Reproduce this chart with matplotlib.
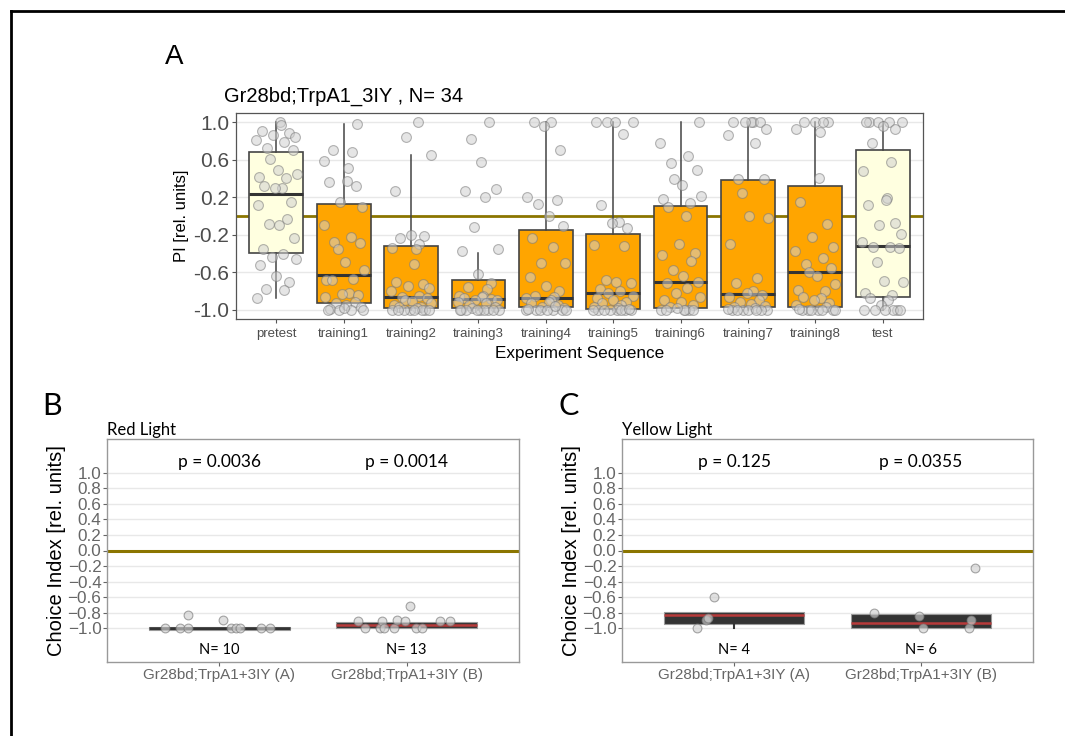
"""Recreation of the Gr28bd;TrpA1_3IY learning figure (panels A, B, C)."""

import matplotlib

matplotlib.use("Agg")
import matplotlib.pyplot as plt
import numpy as np
from matplotlib.lines import Line2D

# ---------------- panel A data ----------------
stages = ["pretest", "training1", "training2", "training3", "training4",
          "training5", "training6", "training7", "training8", "test"]
n_flies = 34

pretest = [1.0, 0.91, 0.89, 0.86, 0.84, 0.81, 0.79, 0.73, 0.71, 0.61, 0.49, 0.45,
           0.42, 0.41, 0.32, 0.30, 0.30, 0.15, 0.12, -0.03, -0.09, -0.10, -0.24,
           -0.35, -0.41, -0.44, -0.46, -0.52, -0.64, -0.71, -0.78, -0.79, -0.88, 0.97]
training1 = [0.98, 0.71, 0.68, 0.59, 0.51, 0.37, 0.36, 0.32, 0.15, 0.10, -0.10,
             -0.22, -0.28, -0.29, -0.35, -0.49, -0.58, -0.68, -0.67, -0.68, -0.82,
             -0.83, -0.84, -0.86, -0.92, -0.93, -0.95, -0.97, -0.99, -1.0, -1.0,
             -1.0, -1.0, -0.98]
training2 = [1.0, 0.84, 0.65, 0.27, -0.20, -0.21, -0.24, -0.30, -0.34, -0.35, -0.51,
             -0.71, -0.73, -0.75, -0.77, -0.80, -0.85, -0.87, -0.88, -0.90, -0.91,
             -0.93, -0.95, -0.97, -0.97, -0.98, -1.0, -1.0, -1.0, -1.0, -1.0, -1.0,
             -1.0, -1.0]
training3 = [1.0, 0.82, 0.58, 0.29, 0.27, 0.20, -0.12, -0.35, -0.37, -0.62, -0.72,
             -0.76, -0.78, -0.85, -0.85, -0.86, -0.88, -0.89, -0.90, -0.90, -0.92,
             -0.93, -0.95, -0.97, -0.98, -1.0, -1.0, -1.0, -1.0, -1.0, -1.0, -1.0,
             -1.0, -1.0]
training4 = [1.0, 1.0, 0.96, 0.71, 0.20, 0.17, 0.13, 0.0, -0.11, -0.23, -0.33, -0.50,
             -0.50, -0.65, -0.75, -0.80, -0.85, -0.87, -0.88, -0.90, -0.92, -0.93,
             -0.95, -0.97, -0.98, -1.0, -1.0, -1.0, -1.0, -1.0, -1.0, -1.0, -0.99,
             -0.96]
training5 = [1.0, 1.0, 1.0, 1.0, 0.88, 0.12, -0.06, -0.08, -0.13, -0.31, -0.32,
             -0.68, -0.70, -0.72, -0.78, -0.80, -0.82, -0.85, -0.88, -0.90, -0.92,
             -0.93, -0.95, -0.97, -0.98, -1.0, -1.0, -1.0, -1.0, -1.0, -1.0, -1.0,
             -1.0, -0.99]
training6 = [1.0, 0.78, 0.64, 0.57, 0.49, 0.40, 0.33, 0.21, 0.18, 0.14, 0.10, 0.0,
             -0.30, -0.39, -0.42, -0.48, -0.58, -0.64, -0.70, -0.72, -0.77, -0.82,
             -0.86, -0.90, -0.92, -0.95, -0.97, -1.0, -1.0, -1.0, -1.0, -1.0, -1.0,
             -0.98]
training7 = [1.0, 1.0, 1.0, 1.0, 1.0, 0.93, 0.86, 0.78, 0.40, 0.39, 0.25, 0.0, -0.02,
             -0.30, -0.66, -0.72, -0.80, -0.82, -0.84, -0.86, -0.90, -0.92, -0.94,
             -0.96, -0.97, -0.98, -1.0, -1.0, -1.0, -1.0, -1.0, -1.0, -1.0, -0.99]
training8 = [1.0, 1.0, 1.0, 1.0, 0.93, 0.90, 0.41, 0.15, -0.09, -0.22, -0.33, -0.37,
             -0.45, -0.51, -0.56, -0.60, -0.64, -0.73, -0.79, -0.80, -0.86, -0.88,
             -0.90, -0.93, -0.95, -0.97, -1.0, -1.0, -1.0, -1.0, -1.0, -1.0, -1.0,
             -0.99]
test = [1.0, 1.0, 1.0, 1.0, 1.0, 0.96, 0.93, 0.78, 0.58, 0.48, 0.19, 0.17, 0.12,
        -0.08, -0.10, -0.19, -0.28, -0.33, -0.33, -0.34, -0.49, -0.69, -0.70, -0.82,
        -0.84, -0.88, -0.90, -0.95, -1.0, -1.0, -1.0, -1.0, -1.0, -1.0]
stage_values = [pretest, training1, training2, training3, training4,
                training5, training6, training7, training8, test]

# box statistics
box_q1 = [-0.40, -0.93, -0.98, -0.98, -0.97, -0.99, -0.98, -0.97, -0.97, -0.86]
box_med = [0.23, -0.63, -0.87, -0.89, -0.88, -0.82, -0.70, -0.83, -0.60, -0.32]
box_q3 = [0.68, 0.13, -0.32, -0.68, -0.15, -0.19, 0.11, 0.38, 0.32, 0.71]
box_lo = [-0.88, -0.99, -1.0, -1.0, -1.0, -1.0, -1.0, -1.0, -1.0, -1.0]
box_hi = [1.0, 0.98, 0.65, -0.39, 1.0, 1.0, 1.0, 1.0, 1.0, 1.0]

# ---------------- panels B and C data ----------------
groups = ["Gr28bd;TrpA1+3IY (A)", "Gr28bd;TrpA1+3IY (B)"]

red_a = [-1.0, -1.0, -0.83, -1.0, -0.89, -1.0, -1.0, -1.0, -1.0, -1.0]
red_b = [-0.91, -1.0, -1.0, -0.91, -1.0, -1.0, -0.89, -0.71, -1.0, -1.0, -0.91,
         -0.91, -0.90]
red_p = ["p = 0.0036", "p = 0.0014"]
red_q1 = [-1.02, -1.0]
red_med = [-1.0, -0.95]
red_q3 = [-0.975, -0.92]
red_lo = [-1.02, -1.0]
red_hi = [-0.975, -0.92]

yellow_a = [-1.0, -0.89, -0.87, -0.60]
yellow_b = [-0.80, -0.84, -1.0, -1.0, -0.89, -0.22]
yellow_p = ["p = 0.125", "p = 0.0355"]
yellow_q1 = [-0.94, -0.99]
yellow_med = [-0.83, -0.93]
yellow_q3 = [-0.79, -0.81]
yellow_lo = [-1.0, -0.99]
yellow_hi = [-0.79, -0.81]

# horizontal jitter used for the dots (layout only)
jitter = [0.05, -0.22, 0.18, -0.05, 0.27, -0.30, 0.11, -0.14, 0.24, -0.09, 0.02,
          0.30, -0.26, 0.14, -0.18, 0.08, -0.02, 0.21, -0.28, 0.16, -0.11, 0.04,
          0.26, -0.20, 0.10, -0.07, 0.29, -0.24, 0.00, 0.19, -0.16, 0.12, -0.29,
          0.07]
red_jit_a = [-0.29, -0.21, -0.17, -0.17, 0.02, 0.06, 0.09, 0.11, 0.22, 0.27]
red_jit_b = [-0.26, -0.22, -0.14, -0.13, -0.12, -0.07, -0.05, 0.02, 0.05, 0.08,
             0.18, 0.23, -0.01]
yellow_jit_a = [-0.20, -0.15, -0.14, -0.11]
yellow_jit_b = [-0.25, -0.01, 0.01, 0.26, 0.27, 0.29]

ZERO_COLOR = "#8b7500"
GRID_COLOR = "#e8e8e8"
TICK_COLOR = "#4d4d4d"
DOT_FACE = "#d0d0d0"
DOT_EDGE = "#7a7a7a"
MEDIAN_RED = "#b83a3a"


def box_stats(q1, med, q3, lo, hi):
    return [{"q1": a, "med": m, "q3": b, "whislo": l, "whishi": h, "fliers": []}
            for a, m, b, l, h in zip(q1, med, q3, lo, hi)]


fig = plt.figure(figsize=(10.65, 7.36), dpi=100)

# frame lines (top and left only)
fig.add_artist(Line2D([11 / 1065, 1.0], [1 - 11 / 736] * 2, color="black", lw=2))
fig.add_artist(Line2D([11 / 1065] * 2, [0.0, 1 - 11 / 736], color="black", lw=2))

# ---------------- panel A ----------------
ax = fig.add_axes([236 / 1065, 1 - 319 / 736, 687 / 1065, 206 / 736])
pos = np.arange(len(stages))
for y in [1.0, 0.6, 0.2, -0.2, -0.6, -1.0]:
    ax.axhline(y, color=GRID_COLOR, lw=1, zorder=0.5)
ax.axhline(0, color=ZERO_COLOR, lw=2, zorder=1)
parts = ax.bxp(box_stats(box_q1, box_med, box_q3, box_lo, box_hi), positions=pos,
               widths=0.8, patch_artist=True, showfliers=False, showcaps=False,
               boxprops=dict(edgecolor="#444444", linewidth=1.2),
               medianprops=dict(color="#333333", linewidth=2.2),
               whiskerprops=dict(color="#444444", linewidth=1.1), zorder=2)
for name, patch in zip(stages, parts["boxes"]):
    patch.set_facecolor("#ffffe0" if name in ("pretest", "test") else "#ffa500")
    patch.set_zorder(2)
for i, vals in enumerate(stage_values):
    offs = np.roll(jitter, 5 * i)[:len(vals)]
    ax.scatter(pos[i] + offs, vals, s=50, facecolor=DOT_FACE, edgecolor=DOT_EDGE,
               linewidths=0.8, alpha=0.55, zorder=3)
ax.set_xlim(-0.6, 9.6)
ax.set_ylim(-1.1, 1.1)
ax.set_xticks(pos)
ax.set_xticklabels(stages, fontsize=9.5, color=TICK_COLOR, family="Liberation Sans")
ax.set_yticks([1.0, 0.6, 0.2, -0.2, -0.6, -1.0])
ax.set_yticklabels(["1.0", "0.6", "0.2", "-0.2", "-0.6", "-1.0"], fontsize=15,
                   color=TICK_COLOR, family="Liberation Sans")
ax.tick_params(length=3, color="#555555", width=0.8)
ax.tick_params(axis="y", pad=2)
for sp in ax.spines.values():
    sp.set_color("#555555")
    sp.set_linewidth(0.9)
ax.set_ylabel("PI [rel. units]", fontsize=12, family="Liberation Sans", labelpad=3)
ax.set_xlabel("Experiment Sequence", fontsize=12.3, family="Liberation Sans", labelpad=4)
ax.set_title(f"Gr28bd;TrpA1_3IY , N= {n_flies}", loc="left", fontsize=14.5,
             family="Liberation Sans", x=-0.018, pad=8)
fig.text(165 / 1065, 1 - 57 / 736, "A", fontsize=20, family="Liberation Sans",
         ha="left", va="center")


def light_panel(rect, title, letter, letter_x, vals_a, vals_b, jit_a, jit_b,
                pvals, q1, med, q3, lo, hi, median_colors):
    axp = fig.add_axes(rect)
    ticks = np.round(np.arange(-1.0, 1.01, 0.2), 1)
    for y in ticks:
        axp.axhline(y, color=GRID_COLOR, lw=1, zorder=0.5)
    axp.axhline(0, color=ZERO_COLOR, lw=2.2, zorder=1)
    xs = np.arange(2)
    parts_p = axp.bxp(box_stats(q1, med, q3, lo, hi), positions=xs, widths=0.75,
                      patch_artist=True, showfliers=False, showcaps=False,
                      boxprops=dict(facecolor="#333333", edgecolor="#9a9a9a",
                                    linewidth=0.8),
                      medianprops=dict(linewidth=1.8),
                      whiskerprops=dict(color="#333333", linewidth=1.5), zorder=2)
    for patch in parts_p["boxes"]:
        patch.set_zorder(2)
    for line, col in zip(parts_p["medians"], median_colors):
        line.set_color(col)
    for x, vals, jit in ((0, vals_a, jit_a), (1, vals_b, jit_b)):
        axp.scatter(np.asarray(jit) + x, vals, s=40, facecolor=DOT_FACE,
                    edgecolor=DOT_EDGE, linewidths=0.8, alpha=0.65, zorder=3)
        axp.text(x, -1.27, f"N= {len(vals)}", ha="center", va="center",
                 fontsize=10.5, family="Lato")
        axp.text(x, 1.14, pvals[x], ha="center", va="center", fontsize=12.5,
                 family="Lato")
    axp.set_xlim(-0.6, 1.6)
    axp.set_ylim(-1.43, 1.43)
    axp.set_xticks(xs)
    axp.set_xticklabels(groups, fontsize=11, color="#666666", family="Liberation Sans")
    axp.set_yticks(ticks)
    axp.set_yticklabels([f"{t:.1f}".replace("-", "\u2212") if t != 0 else "0.0"
                         for t in ticks], fontsize=12.3, color="#666666",
                        family="Liberation Sans")
    axp.tick_params(length=3, color="#666666", width=0.8, pad=1)
    for sp in axp.spines.values():
        sp.set_color("#999999")
        sp.set_linewidth(1)
    axp.set_ylabel("Choice Index [rel. units]", fontsize=14.5,
                   family="Liberation Sans", labelpad=1)
    axp.set_title(title, loc="left", fontsize=12, family="Lato", pad=3)
    fig.text(letter_x, 1 - 406 / 736, letter, fontsize=22, family="Lato",
             ha="left", va="center")


light_panel([107 / 1065, 1 - 662 / 736, 412 / 1065, 223 / 736], "Red Light", "B",
            42 / 1065, red_a, red_b, red_jit_a, red_jit_b, red_p,
            red_q1, red_med, red_q3, red_lo, red_hi, ["#333333", MEDIAN_RED])
light_panel([622 / 1065, 1 - 662 / 736, 411 / 1065, 223 / 736], "Yellow Light", "C",
            559 / 1065, yellow_a, yellow_b, yellow_jit_a, yellow_jit_b, yellow_p,
            yellow_q1, yellow_med, yellow_q3, yellow_lo, yellow_hi,
            [MEDIAN_RED, MEDIAN_RED])

fig.savefig("out.png", dpi=100, facecolor="white")
